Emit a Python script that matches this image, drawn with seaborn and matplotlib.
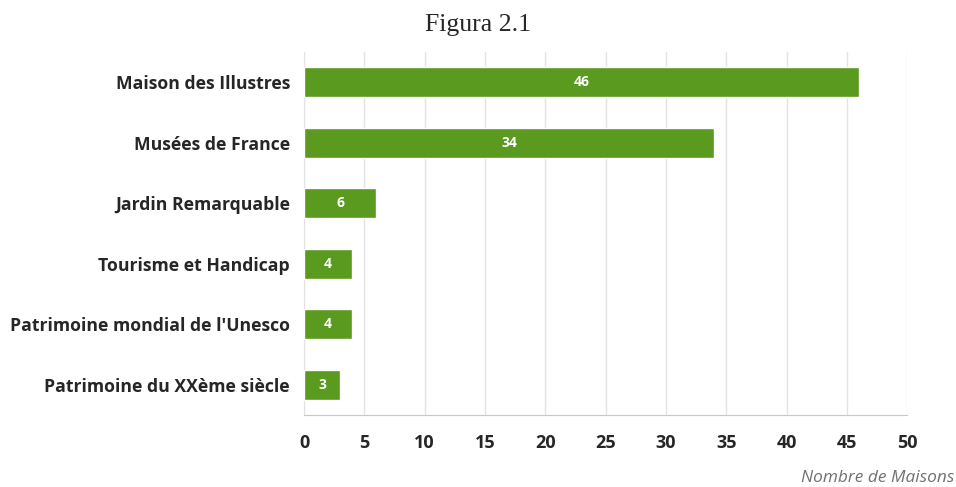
import matplotlib
matplotlib.use("Agg")
import matplotlib.pyplot as plt
import seaborn as sns
import pandas as pd
import numpy as np

categories = [
    "Maison des Illustres",
    "Musées de France",
    "Jardin Remarquable",
    "Tourisme et Handicap",
    "Patrimoine mondial de l'Unesco",
    "Patrimoine du XXème siècle",
]
counts = [46, 34, 6, 4, 4, 3]
x_ticks = [0, 5, 10, 15, 20, 25, 30, 35, 40, 45, 50]

BAR_COLOR = "#5a9a1f"
GRID_COLOR = "#e3e3e3"
AXIS_COLOR = "#c8c8c8"

sns.set_style("white")
plt.rcParams["font.family"] = ["Open Sans", "DejaVu Sans"]

df = pd.DataFrame({"label": categories, "count": counts})

fig = plt.figure(figsize=(9.56, 4.87), dpi=100)
ax = fig.add_axes([0.318, 0.148, 0.631, 0.745])

sns.barplot(data=df, x="count", y="label", color=BAR_COLOR, width=0.5,
            saturation=1, ax=ax, zorder=3)

for patch, val in zip(ax.patches, counts):
    cy = patch.get_y() + patch.get_height() / 2
    ax.text(val / 2, cy, str(val), color="white", ha="center", va="center",
            fontsize=10, fontweight="bold", zorder=4)

ax.set_xlim(0, 50)
ax.set_ylim(len(categories) - 0.5, -0.5)
ax.set_xticks(x_ticks)
ax.set_xticklabels([str(t) for t in x_ticks], fontsize=13, fontweight="bold")
ax.set_yticks(range(len(categories)))
ax.set_yticklabels(categories, fontsize=12.7, fontweight="bold")
ax.set_yticks(np.arange(0.5, len(categories) - 0.5, 1), minor=True)

ax.tick_params(axis="y", which="major", length=0, pad=10)
ax.tick_params(axis="y", which="minor", length=9, color=GRID_COLOR, width=1)
ax.tick_params(axis="x", which="major", length=6, color=AXIS_COLOR, pad=8)

ax.grid(axis="x", color=GRID_COLOR, linewidth=1, zorder=0)
ax.set_axisbelow(True)

for side in ["top", "right"]:
    ax.spines[side].set_visible(False)
ax.spines["left"].set_color(GRID_COLOR)
ax.spines["bottom"].set_color(AXIS_COLOR)

ax.set_xlabel("")
ax.set_ylabel("")

fig.text(0.5, 0.948, "Figura 2.1", ha="center", va="center",
         fontsize=18.5, family="Liberation Serif")
fig.text(0.998, 0.018, "Nombre de Maisons", ha="right", va="center",
         fontsize=12.4, style="italic", color="#707070")

fig.savefig("out.png", dpi=100)
